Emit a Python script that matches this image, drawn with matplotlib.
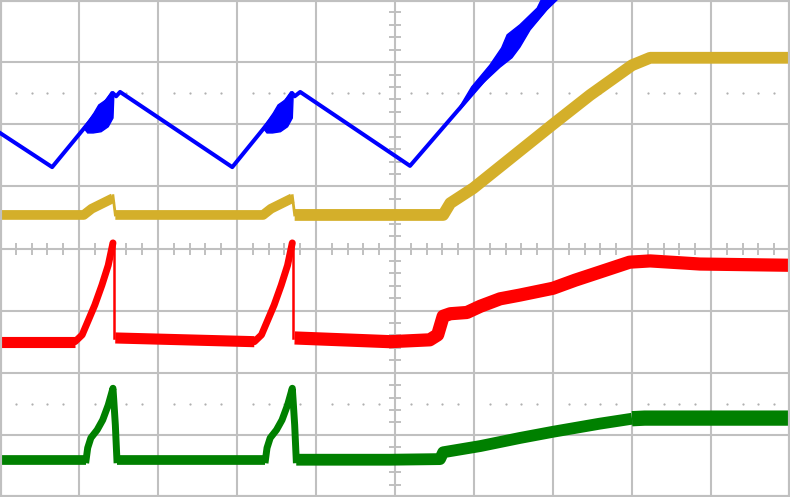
import matplotlib
matplotlib.use('Agg')
import matplotlib.pyplot as plt
import numpy as np

# ---------------------------------------------------------------------------
# 数据 (单位: 格, x 0-10, y 0-8)
# ---------------------------------------------------------------------------

# CH 蓝色 — 三角波
blue_x = [0.00, 0.66, 1.43, 1.47, 1.52, 2.94, 3.70, 3.73, 3.80, 5.19, 7.09]
blue_y = [5.86, 5.31, 6.50, 6.45, 6.52, 5.31, 6.50, 6.45, 6.52, 5.33, 8.13]

# 蓝色振荡区 (多边形)
burst_x = [1.11, 1.06, 1.19, 1.25, 1.34, 1.41, 1.43, 1.44, 1.43, 1.37, 1.28, 1.18]
burst_y = [5.86, 5.94, 6.18, 6.31, 6.39, 6.52, 6.52, 6.44, 6.10, 5.96, 5.88, 5.86]
burst_shift = 2.27
burst3_x = [5.82, 5.97, 6.20, 6.35, 6.42, 6.58, 6.80, 6.87,
            7.09, 6.92, 6.71, 6.58, 6.48, 6.33, 6.11, 5.97, 5.82]
burst3_y = [6.28, 6.60, 6.95, 7.23, 7.44, 7.60, 7.87, 8.05,
            8.05, 7.84, 7.52, 7.24, 7.07, 6.92, 6.66, 6.47, 6.23]

# CH 黄色
yel_base_x = [[0.00, 1.06, 1.16, 1.43],
              [1.46, 3.33, 3.43, 3.70]]
yel_base_y = [[4.54, 4.54, 4.64, 4.81],
              [4.54, 4.54, 4.64, 4.81]]
yel_drop_x = [[1.43, 1.46], [3.70, 3.73]]
yel_drop_y = [[4.85, 4.54], [4.85, 4.54]]
yel_tail_x = [3.73, 5.61, 5.70, 5.99, 7.00, 7.47, 8.00, 8.23, 10.0]
yel_tail_y = [4.54, 4.54, 4.73, 4.97, 6.00, 6.47, 6.95, 7.07, 7.07]

# CH 红色
red_base_x = [[0.00, 0.95], [1.46, 3.22]]
red_base_y = [[2.50, 2.50], [2.56, 2.50]]
red_spike_x = [0.95, 1.04, 1.11, 1.20, 1.29, 1.37, 1.43]
red_spike_y = [2.50, 2.61, 2.82, 3.09, 3.41, 3.73, 4.09]
red_drop_x = [1.44, 1.44]
red_drop_y = [4.09, 2.56]
red_tail_x = [3.73, 4.94, 5.44, 5.54, 5.61, 5.70, 5.91, 6.08, 6.33, 6.58,
              7.00, 7.28, 7.59, 7.97, 8.23, 8.86, 10.0]
red_tail_y = [2.56, 2.50, 2.53, 2.61, 2.91, 2.95, 2.97, 3.07, 3.19, 3.25,
              3.36, 3.49, 3.62, 3.78, 3.80, 3.75, 3.73]

# CH 绿色
grn_base_x = [[0.00, 1.09], [1.48, 3.36]]
grn_base_y = [[0.60, 0.60], [0.60, 0.60]]
grn_spike_x = [1.09, 1.11, 1.15, 1.23, 1.30, 1.37, 1.43, 1.44, 1.46, 1.48]
grn_spike_y = [0.60, 0.79, 0.95, 1.08, 1.24, 1.48, 1.75, 1.56, 1.16, 0.60]
grn_tail_x = [3.75, 4.94, 5.57, 5.61, 6.08, 6.58, 7.00, 7.59, 8.00]
grn_tail_y = [0.60, 0.60, 0.61, 0.72, 0.82, 0.95, 1.05, 1.18, 1.26]
grn_flat_x = [8.00, 8.16, 10.0]
grn_flat_y = [1.26, 1.27, 1.27]

spike_shift = 2.27

BLUE = '#0000ff'
YELLOW = '#d4af2a'
RED = '#ff0000'
GREEN = '#008000'
GRID = '#c0c0c0'

fig = plt.figure(figsize=(7.9, 4.97), dpi=100)
ax = fig.add_axes([0, 0, 1, 1])
ax.set_xlim(0, 10)
ax.set_ylim(0, 8)

# 网格
for gx in range(11):
    ax.axvline(gx, color=GRID, lw=1.5, zorder=0)
for gy in range(9):
    ax.axhline(gy, color=GRID, lw=1.5, zorder=0)
ax.set_xticks([]); ax.set_yticks([])
for s in ax.spines.values():
    s.set_color(GRID); s.set_linewidth(3)

# 中心轴刻度
minor_x = [v / 5 for v in range(51) if v % 5]
minor_y = [v / 5 for v in range(41) if v % 5]
ax.plot(minor_x, [4] * len(minor_x), ls='none', marker='|', ms=8,
        mew=1.4, color=GRID, zorder=0)
ax.plot([5] * len(minor_y), minor_y, ls='none', marker='_', ms=8,
        mew=1.4, color=GRID, zorder=0)
for dy in (6.5, 1.5):
    ax.plot(minor_x, [dy] * len(minor_x), ls='none', marker='o', ms=1.6,
            mew=0, color='#b0b0b0', zorder=0)

cap = dict(solid_capstyle='butt', solid_joinstyle='round')

# 蓝色
ax.plot(blue_x, blue_y, color=BLUE, lw=2.9, zorder=3)
for k in range(2):
    ax.fill([x + k * burst_shift for x in burst_x], burst_y, color=BLUE,
            lw=1, zorder=3)
ax.fill(burst3_x, burst3_y, color=BLUE, lw=1, zorder=3)

# 黄色
for k in range(2):
    ax.plot(yel_base_x[k], yel_base_y[k], color=YELLOW, lw=7, zorder=2, **cap)
    ax.plot(yel_drop_x[k], yel_drop_y[k], color=YELLOW, lw=2, zorder=2)
ax.plot(yel_tail_x, yel_tail_y, color=YELLOW, lw=8.5, zorder=2, **cap)

# 红色
for k in range(2):
    off = k * spike_shift
    ax.plot([x + off for x in red_spike_x], red_spike_y, color=RED, lw=5,
            zorder=2, solid_capstyle='round')
    ax.plot([x + off for x in red_drop_x], red_drop_y, color=RED, lw=1.8,
            zorder=2)
for bx, by in zip(red_base_x, red_base_y):
    ax.plot(bx, by, color=RED, lw=8, zorder=2, **cap)
ax.plot(red_tail_x, red_tail_y, color=RED, lw=9.5, zorder=2, **cap)

# 绿色
for k in range(2):
    off = k * spike_shift
    ax.plot([x + off for x in grn_spike_x], grn_spike_y, color=GREEN, lw=5,
            zorder=2)
for bx, by in zip(grn_base_x, grn_base_y):
    ax.plot(bx, by, color=GREEN, lw=7, zorder=2, **cap)
ax.plot(grn_tail_x, grn_tail_y, color=GREEN, lw=8.5, zorder=2, **cap)
ax.plot(grn_flat_x, grn_flat_y, color=GREEN, lw=11, zorder=2, **cap)

fig.savefig('out.png', dpi=100, facecolor='white')
